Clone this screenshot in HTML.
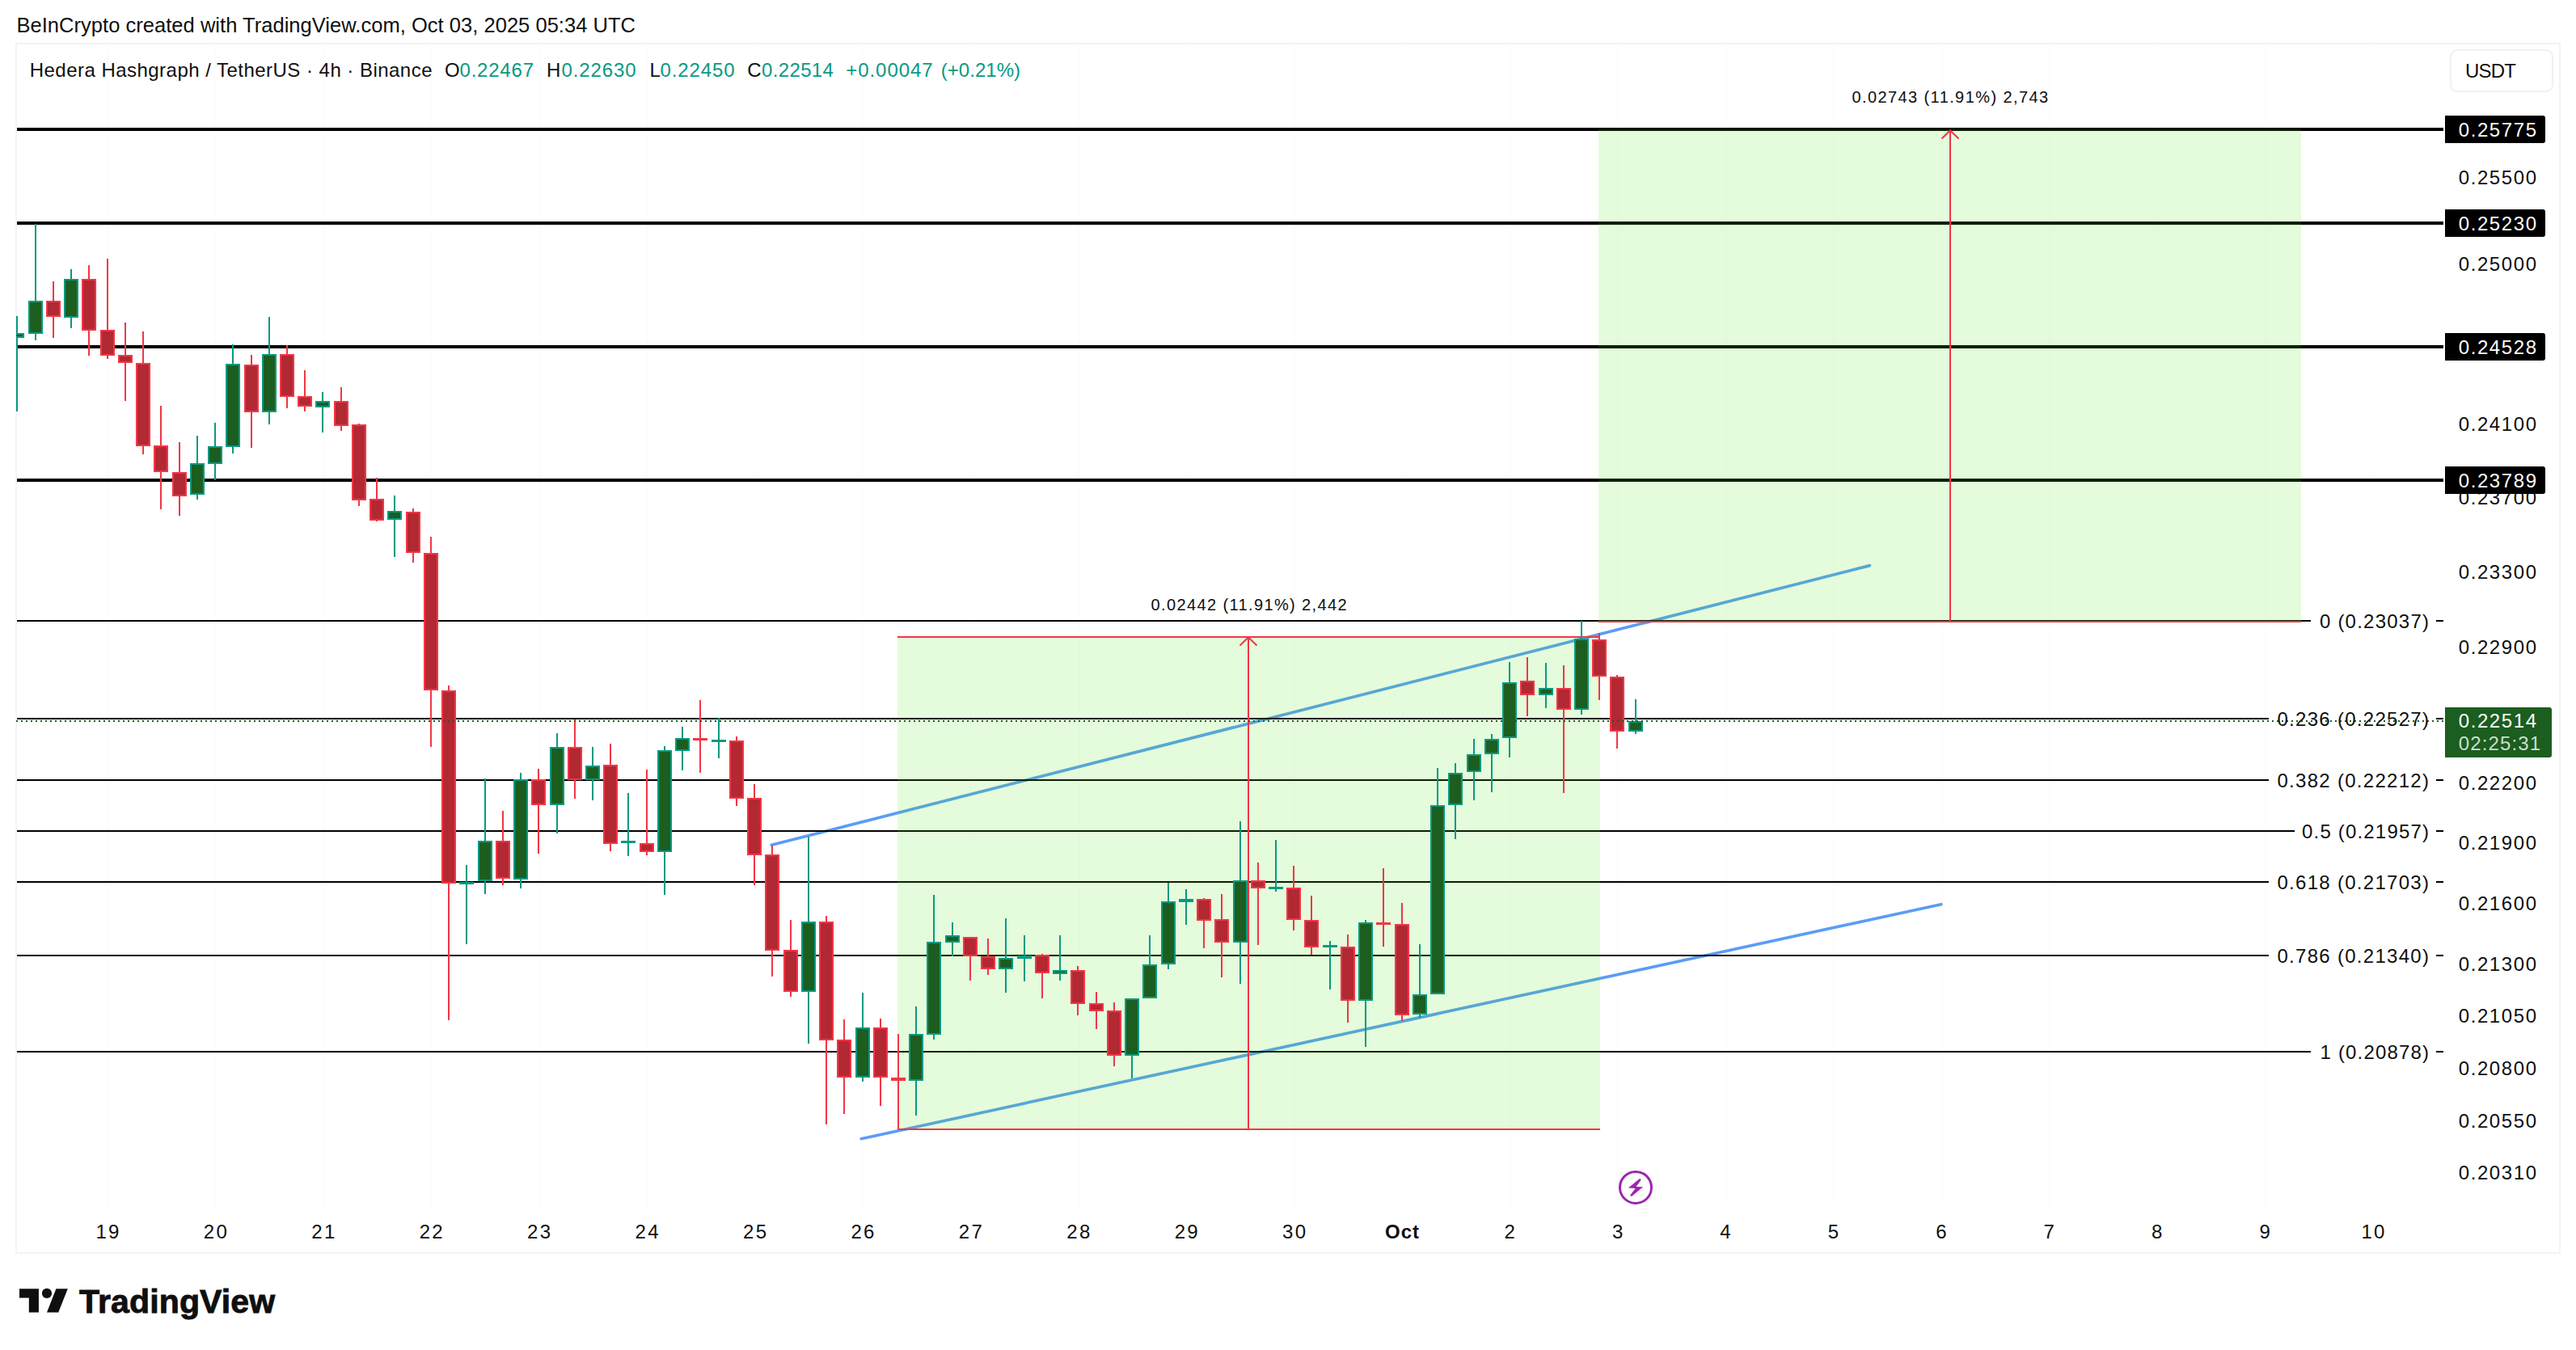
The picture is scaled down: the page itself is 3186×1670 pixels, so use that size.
<!DOCTYPE html><html><head><meta charset="utf-8"><title>HBARUSDT chart</title><style>html,body{margin:0;padding:0;background:#fff}body{width:3186px;height:1670px;position:relative;overflow:hidden}</style></head><body>
<svg width="3186" height="1670" viewBox="0 0 3186 1670" style="position:absolute;left:0;top:0">
<defs><clipPath id="cp"><rect x="20" y="54" width="3002" height="1440"/></clipPath></defs>
<rect x="0" y="0" width="3186" height="1670" fill="#fff"/>
<rect x="20" y="54" width="3146" height="1496" fill="none" stroke="#f3f3f3" stroke-width="2"/>
<g shape-rendering="crispEdges"><rect x="133" y="55" width="1" height="1439" fill="#fbfbfb"/><rect x="266" y="55" width="1" height="1439" fill="#fbfbfb"/><rect x="400" y="55" width="1" height="1439" fill="#fbfbfb"/><rect x="533" y="55" width="1" height="1439" fill="#fbfbfb"/><rect x="667" y="55" width="1" height="1439" fill="#fbfbfb"/><rect x="800" y="55" width="1" height="1439" fill="#fbfbfb"/><rect x="933" y="55" width="1" height="1439" fill="#fbfbfb"/><rect x="1067" y="55" width="1" height="1439" fill="#fbfbfb"/><rect x="1200" y="55" width="1" height="1439" fill="#fbfbfb"/><rect x="1334" y="55" width="1" height="1439" fill="#fbfbfb"/><rect x="1467" y="55" width="1" height="1439" fill="#fbfbfb"/><rect x="1601" y="55" width="1" height="1439" fill="#fbfbfb"/><rect x="1734" y="55" width="1" height="1439" fill="#fbfbfb"/><rect x="1867" y="55" width="1" height="1439" fill="#fbfbfb"/><rect x="2001" y="55" width="1" height="1439" fill="#fbfbfb"/><rect x="2134" y="55" width="1" height="1439" fill="#fbfbfb"/><rect x="2268" y="55" width="1" height="1439" fill="#fbfbfb"/><rect x="2401" y="55" width="1" height="1439" fill="#fbfbfb"/><rect x="2535" y="55" width="1" height="1439" fill="#fbfbfb"/><rect x="2668" y="55" width="1" height="1439" fill="#fbfbfb"/><rect x="2802" y="55" width="1" height="1439" fill="#fbfbfb"/><rect x="2935" y="55" width="1" height="1439" fill="#fbfbfb"/></g>
<rect x="3031" y="62" width="126" height="51" rx="8" fill="#fff" stroke="#f1f1f1" stroke-width="2"/>
<g shape-rendering="crispEdges" clip-path="url(#cp)">
<rect x="21" y="158" width="3001" height="4" fill="#000"/>
<rect x="21" y="274" width="3001" height="4" fill="#000"/>
<rect x="21" y="427" width="3001" height="4" fill="#000"/>
<rect x="21" y="592" width="3001" height="4" fill="#000"/>
</g>
<g clip-path="url(#cp)"><line x1="954.3" y1="1045.3" x2="2312.4" y2="699.6" stroke="#5b9cf6" stroke-width="3.7" stroke-linecap="round"/><line x1="1065.2" y1="1408.7" x2="2400.8" y2="1118.7" stroke="#5b9cf6" stroke-width="3.7" stroke-linecap="round"/></g>
<g shape-rendering="crispEdges">
<rect x="21" y="767" width="2837" height="2" fill="#000"/>
<rect x="3013" y="767" width="9" height="2" fill="#000"/>
<rect x="21" y="888" width="2785" height="2" fill="#000"/>
<rect x="3013" y="888" width="9" height="2" fill="#000"/>
<rect x="21" y="964" width="2785" height="2" fill="#000"/>
<rect x="3013" y="964" width="9" height="2" fill="#000"/>
<rect x="21" y="1027" width="2817" height="2" fill="#000"/>
<rect x="3013" y="1027" width="9" height="2" fill="#000"/>
<rect x="21" y="1090" width="2785" height="2" fill="#000"/>
<rect x="3013" y="1090" width="9" height="2" fill="#000"/>
<rect x="21" y="1181" width="2785" height="2" fill="#000"/>
<rect x="3013" y="1181" width="9" height="2" fill="#000"/>
<rect x="21" y="1300" width="2837" height="2" fill="#000"/>
<rect x="3013" y="1300" width="9" height="2" fill="#000"/>
<rect x="1110" y="789" width="869" height="608" fill="rgba(62,234,5,0.14)"/>
<rect x="1977" y="160" width="869" height="608" fill="rgba(62,234,5,0.14)"/>
<rect x="1110" y="787" width="868" height="2" fill="#f23645"/>
<rect x="1110" y="1396" width="869" height="2" fill="#f23645"/>
<rect x="1543" y="789" width="2" height="608" fill="#f23645"/>
<rect x="1977" y="768" width="869" height="2" fill="#f23645"/>
<rect x="2411" y="162" width="2" height="607" fill="#f23645"/>
</g>
<path d="M1533.5 798.5 L1544 788.5 L1554.5 798.5" fill="none" stroke="#f23645" stroke-width="2"/>
<path d="M2401.5 171.5 L2412 161.5 L2422.5 171.5" fill="none" stroke="#f23645" stroke-width="2"/>
<g shape-rendering="crispEdges" clip-path="url(#cp)"><rect x="20" y="391" width="2" height="118" fill="#089981"/><rect x="12" y="412" width="18" height="6" fill="#089981"/><rect x="14" y="414" width="14" height="2" fill="#1b5e20"/><rect x="43" y="277" width="2" height="144" fill="#089981"/><rect x="35" y="372" width="18" height="41" fill="#089981"/><rect x="37" y="374" width="14" height="37" fill="#1b5e20"/><rect x="65" y="348" width="2" height="70" fill="#f23645"/><rect x="57" y="372" width="18" height="20" fill="#f23645"/><rect x="59" y="374" width="14" height="16" fill="#b22833"/><rect x="87" y="333" width="2" height="73" fill="#089981"/><rect x="79" y="345" width="18" height="48" fill="#089981"/><rect x="81" y="347" width="14" height="44" fill="#1b5e20"/><rect x="109" y="328" width="2" height="112" fill="#f23645"/><rect x="101" y="345" width="18" height="64" fill="#f23645"/><rect x="103" y="347" width="14" height="60" fill="#b22833"/><rect x="132" y="320" width="2" height="124" fill="#f23645"/><rect x="124" y="408" width="18" height="32" fill="#f23645"/><rect x="126" y="410" width="14" height="28" fill="#b22833"/><rect x="154" y="399" width="2" height="97" fill="#f23645"/><rect x="146" y="439" width="18" height="10" fill="#f23645"/><rect x="148" y="441" width="14" height="6" fill="#b22833"/><rect x="176" y="410" width="2" height="152" fill="#f23645"/><rect x="168" y="449" width="18" height="103" fill="#f23645"/><rect x="170" y="451" width="14" height="99" fill="#b22833"/><rect x="198" y="502" width="2" height="128" fill="#f23645"/><rect x="190" y="551" width="18" height="33" fill="#f23645"/><rect x="192" y="553" width="14" height="29" fill="#b22833"/><rect x="221" y="547" width="2" height="91" fill="#f23645"/><rect x="213" y="584" width="18" height="30" fill="#f23645"/><rect x="215" y="586" width="14" height="26" fill="#b22833"/><rect x="243" y="539" width="2" height="79" fill="#089981"/><rect x="235" y="573" width="18" height="39" fill="#089981"/><rect x="237" y="575" width="14" height="35" fill="#1b5e20"/><rect x="265" y="523" width="2" height="71" fill="#089981"/><rect x="257" y="552" width="18" height="22" fill="#089981"/><rect x="259" y="554" width="14" height="18" fill="#1b5e20"/><rect x="287" y="426" width="2" height="135" fill="#089981"/><rect x="279" y="450" width="18" height="103" fill="#089981"/><rect x="281" y="452" width="14" height="99" fill="#1b5e20"/><rect x="310" y="439" width="2" height="115" fill="#f23645"/><rect x="302" y="451" width="18" height="59" fill="#f23645"/><rect x="304" y="453" width="14" height="55" fill="#b22833"/><rect x="332" y="392" width="2" height="133" fill="#089981"/><rect x="324" y="438" width="18" height="72" fill="#089981"/><rect x="326" y="440" width="14" height="68" fill="#1b5e20"/><rect x="354" y="427" width="2" height="78" fill="#f23645"/><rect x="346" y="438" width="18" height="53" fill="#f23645"/><rect x="348" y="440" width="14" height="49" fill="#b22833"/><rect x="376" y="458" width="2" height="51" fill="#f23645"/><rect x="368" y="490" width="18" height="13" fill="#f23645"/><rect x="370" y="492" width="14" height="9" fill="#b22833"/><rect x="398" y="485" width="2" height="50" fill="#089981"/><rect x="390" y="496" width="18" height="8" fill="#089981"/><rect x="392" y="498" width="14" height="4" fill="#1b5e20"/><rect x="421" y="479" width="2" height="54" fill="#f23645"/><rect x="413" y="496" width="18" height="31" fill="#f23645"/><rect x="415" y="498" width="14" height="27" fill="#b22833"/><rect x="443" y="524" width="2" height="102" fill="#f23645"/><rect x="435" y="525" width="18" height="94" fill="#f23645"/><rect x="437" y="527" width="14" height="90" fill="#b22833"/><rect x="465" y="591" width="2" height="54" fill="#f23645"/><rect x="457" y="617" width="18" height="27" fill="#f23645"/><rect x="459" y="619" width="14" height="23" fill="#b22833"/><rect x="487" y="613" width="2" height="76" fill="#089981"/><rect x="479" y="632" width="18" height="11" fill="#089981"/><rect x="481" y="634" width="14" height="7" fill="#1b5e20"/><rect x="510" y="629" width="2" height="67" fill="#f23645"/><rect x="502" y="633" width="18" height="51" fill="#f23645"/><rect x="504" y="635" width="14" height="47" fill="#b22833"/><rect x="532" y="664" width="2" height="260" fill="#f23645"/><rect x="524" y="684" width="18" height="170" fill="#f23645"/><rect x="526" y="686" width="14" height="166" fill="#b22833"/><rect x="554" y="848" width="2" height="414" fill="#f23645"/><rect x="546" y="854" width="18" height="239" fill="#f23645"/><rect x="548" y="856" width="14" height="235" fill="#b22833"/><rect x="576" y="1070" width="2" height="98" fill="#089981"/><rect x="568" y="1091" width="18" height="3" fill="#089981"/><rect x="599" y="963" width="2" height="143" fill="#089981"/><rect x="591" y="1040" width="18" height="50" fill="#089981"/><rect x="593" y="1042" width="14" height="46" fill="#1b5e20"/><rect x="621" y="1003" width="2" height="92" fill="#f23645"/><rect x="613" y="1040" width="18" height="47" fill="#f23645"/><rect x="615" y="1042" width="14" height="43" fill="#b22833"/><rect x="643" y="956" width="2" height="143" fill="#089981"/><rect x="635" y="964" width="18" height="124" fill="#089981"/><rect x="637" y="966" width="14" height="120" fill="#1b5e20"/><rect x="665" y="951" width="2" height="105" fill="#f23645"/><rect x="657" y="964" width="18" height="32" fill="#f23645"/><rect x="659" y="966" width="14" height="28" fill="#b22833"/><rect x="688" y="907" width="2" height="124" fill="#089981"/><rect x="680" y="924" width="18" height="72" fill="#089981"/><rect x="682" y="926" width="14" height="68" fill="#1b5e20"/><rect x="710" y="890" width="2" height="98" fill="#f23645"/><rect x="702" y="924" width="18" height="41" fill="#f23645"/><rect x="704" y="926" width="14" height="37" fill="#b22833"/><rect x="732" y="924" width="2" height="66" fill="#089981"/><rect x="724" y="947" width="18" height="18" fill="#089981"/><rect x="726" y="949" width="14" height="14" fill="#1b5e20"/><rect x="754" y="920" width="2" height="133" fill="#f23645"/><rect x="746" y="946" width="18" height="98" fill="#f23645"/><rect x="748" y="948" width="14" height="94" fill="#b22833"/><rect x="776" y="981" width="2" height="78" fill="#089981"/><rect x="768" y="1040" width="18" height="3" fill="#089981"/><rect x="799" y="952" width="2" height="106" fill="#f23645"/><rect x="791" y="1043" width="18" height="11" fill="#f23645"/><rect x="793" y="1045" width="14" height="7" fill="#b22833"/><rect x="821" y="923" width="2" height="184" fill="#089981"/><rect x="813" y="928" width="18" height="126" fill="#089981"/><rect x="815" y="930" width="14" height="122" fill="#1b5e20"/><rect x="843" y="899" width="2" height="54" fill="#089981"/><rect x="835" y="913" width="18" height="16" fill="#089981"/><rect x="837" y="915" width="14" height="12" fill="#1b5e20"/><rect x="865" y="866" width="2" height="90" fill="#f23645"/><rect x="857" y="913" width="18" height="3" fill="#f23645"/><rect x="888" y="888" width="2" height="50" fill="#089981"/><rect x="880" y="915" width="18" height="3" fill="#089981"/><rect x="910" y="911" width="2" height="86" fill="#f23645"/><rect x="902" y="916" width="18" height="72" fill="#f23645"/><rect x="904" y="918" width="14" height="68" fill="#b22833"/><rect x="932" y="970" width="2" height="125" fill="#f23645"/><rect x="924" y="987" width="18" height="71" fill="#f23645"/><rect x="926" y="989" width="14" height="67" fill="#b22833"/><rect x="954" y="1046" width="2" height="162" fill="#f23645"/><rect x="946" y="1057" width="18" height="119" fill="#f23645"/><rect x="948" y="1059" width="14" height="115" fill="#b22833"/><rect x="977" y="1138" width="2" height="95" fill="#f23645"/><rect x="969" y="1175" width="18" height="52" fill="#f23645"/><rect x="971" y="1177" width="14" height="48" fill="#b22833"/><rect x="999" y="1035" width="2" height="256" fill="#089981"/><rect x="991" y="1140" width="18" height="87" fill="#089981"/><rect x="993" y="1142" width="14" height="83" fill="#1b5e20"/><rect x="1021" y="1133" width="2" height="258" fill="#f23645"/><rect x="1013" y="1140" width="18" height="147" fill="#f23645"/><rect x="1015" y="1142" width="14" height="143" fill="#b22833"/><rect x="1043" y="1261" width="2" height="117" fill="#f23645"/><rect x="1035" y="1286" width="18" height="47" fill="#f23645"/><rect x="1037" y="1288" width="14" height="43" fill="#b22833"/><rect x="1066" y="1228" width="2" height="110" fill="#089981"/><rect x="1058" y="1271" width="18" height="62" fill="#089981"/><rect x="1060" y="1273" width="14" height="58" fill="#1b5e20"/><rect x="1088" y="1260" width="2" height="108" fill="#f23645"/><rect x="1080" y="1271" width="18" height="62" fill="#f23645"/><rect x="1082" y="1273" width="14" height="58" fill="#b22833"/><rect x="1110" y="1279" width="2" height="119" fill="#f23645"/><rect x="1102" y="1333" width="18" height="4" fill="#f23645"/><rect x="1132" y="1245" width="2" height="135" fill="#089981"/><rect x="1124" y="1279" width="18" height="58" fill="#089981"/><rect x="1126" y="1281" width="14" height="54" fill="#1b5e20"/><rect x="1154" y="1107" width="2" height="179" fill="#089981"/><rect x="1146" y="1165" width="18" height="115" fill="#089981"/><rect x="1148" y="1167" width="14" height="111" fill="#1b5e20"/><rect x="1177" y="1141" width="2" height="42" fill="#089981"/><rect x="1169" y="1157" width="18" height="9" fill="#089981"/><rect x="1171" y="1159" width="14" height="5" fill="#1b5e20"/><rect x="1199" y="1159" width="2" height="54" fill="#f23645"/><rect x="1191" y="1159" width="18" height="24" fill="#f23645"/><rect x="1193" y="1161" width="14" height="20" fill="#b22833"/><rect x="1221" y="1161" width="2" height="45" fill="#f23645"/><rect x="1213" y="1183" width="18" height="16" fill="#f23645"/><rect x="1215" y="1185" width="14" height="12" fill="#b22833"/><rect x="1243" y="1136" width="2" height="92" fill="#089981"/><rect x="1235" y="1185" width="18" height="14" fill="#089981"/><rect x="1237" y="1187" width="14" height="10" fill="#1b5e20"/><rect x="1266" y="1157" width="2" height="57" fill="#089981"/><rect x="1258" y="1182" width="18" height="4" fill="#089981"/><rect x="1288" y="1180" width="2" height="55" fill="#f23645"/><rect x="1280" y="1181" width="18" height="23" fill="#f23645"/><rect x="1282" y="1183" width="14" height="19" fill="#b22833"/><rect x="1310" y="1157" width="2" height="56" fill="#089981"/><rect x="1302" y="1200" width="18" height="5" fill="#089981"/><rect x="1304" y="1202" width="14" height="1" fill="#1b5e20"/><rect x="1332" y="1195" width="2" height="61" fill="#f23645"/><rect x="1324" y="1200" width="18" height="42" fill="#f23645"/><rect x="1326" y="1202" width="14" height="38" fill="#b22833"/><rect x="1355" y="1227" width="2" height="46" fill="#f23645"/><rect x="1347" y="1241" width="18" height="10" fill="#f23645"/><rect x="1349" y="1243" width="14" height="6" fill="#b22833"/><rect x="1377" y="1240" width="2" height="79" fill="#f23645"/><rect x="1369" y="1250" width="18" height="56" fill="#f23645"/><rect x="1371" y="1252" width="14" height="52" fill="#b22833"/><rect x="1399" y="1235" width="2" height="99" fill="#089981"/><rect x="1391" y="1235" width="18" height="71" fill="#089981"/><rect x="1393" y="1237" width="14" height="67" fill="#1b5e20"/><rect x="1421" y="1157" width="2" height="78" fill="#089981"/><rect x="1413" y="1193" width="18" height="42" fill="#089981"/><rect x="1415" y="1195" width="14" height="38" fill="#1b5e20"/><rect x="1444" y="1092" width="2" height="107" fill="#089981"/><rect x="1436" y="1115" width="18" height="78" fill="#089981"/><rect x="1438" y="1117" width="14" height="74" fill="#1b5e20"/><rect x="1466" y="1100" width="2" height="44" fill="#089981"/><rect x="1458" y="1112" width="18" height="4" fill="#089981"/><rect x="1488" y="1111" width="2" height="62" fill="#f23645"/><rect x="1480" y="1112" width="18" height="27" fill="#f23645"/><rect x="1482" y="1114" width="14" height="23" fill="#b22833"/><rect x="1510" y="1106" width="2" height="103" fill="#f23645"/><rect x="1502" y="1137" width="18" height="29" fill="#f23645"/><rect x="1504" y="1139" width="14" height="25" fill="#b22833"/><rect x="1533" y="1016" width="2" height="201" fill="#089981"/><rect x="1525" y="1089" width="18" height="77" fill="#089981"/><rect x="1527" y="1091" width="14" height="73" fill="#1b5e20"/><rect x="1555" y="1067" width="2" height="102" fill="#f23645"/><rect x="1547" y="1089" width="18" height="10" fill="#f23645"/><rect x="1549" y="1091" width="14" height="6" fill="#b22833"/><rect x="1577" y="1039" width="2" height="64" fill="#089981"/><rect x="1569" y="1097" width="18" height="3" fill="#089981"/><rect x="1599" y="1071" width="2" height="80" fill="#f23645"/><rect x="1591" y="1098" width="18" height="40" fill="#f23645"/><rect x="1593" y="1100" width="14" height="36" fill="#b22833"/><rect x="1621" y="1108" width="2" height="73" fill="#f23645"/><rect x="1613" y="1138" width="18" height="34" fill="#f23645"/><rect x="1615" y="1140" width="14" height="30" fill="#b22833"/><rect x="1644" y="1164" width="2" height="60" fill="#089981"/><rect x="1636" y="1169" width="18" height="3" fill="#089981"/><rect x="1666" y="1156" width="2" height="109" fill="#f23645"/><rect x="1658" y="1171" width="18" height="67" fill="#f23645"/><rect x="1660" y="1173" width="14" height="63" fill="#b22833"/><rect x="1688" y="1138" width="2" height="157" fill="#089981"/><rect x="1680" y="1141" width="18" height="97" fill="#089981"/><rect x="1682" y="1143" width="14" height="93" fill="#1b5e20"/><rect x="1710" y="1074" width="2" height="97" fill="#f23645"/><rect x="1702" y="1141" width="18" height="3" fill="#f23645"/><rect x="1733" y="1117" width="2" height="146" fill="#f23645"/><rect x="1725" y="1143" width="18" height="113" fill="#f23645"/><rect x="1727" y="1145" width="14" height="109" fill="#b22833"/><rect x="1755" y="1168" width="2" height="91" fill="#089981"/><rect x="1747" y="1230" width="18" height="25" fill="#089981"/><rect x="1749" y="1232" width="14" height="21" fill="#1b5e20"/><rect x="1777" y="950" width="2" height="280" fill="#089981"/><rect x="1769" y="996" width="18" height="234" fill="#089981"/><rect x="1771" y="998" width="14" height="230" fill="#1b5e20"/><rect x="1799" y="944" width="2" height="94" fill="#089981"/><rect x="1791" y="956" width="18" height="40" fill="#089981"/><rect x="1793" y="958" width="14" height="36" fill="#1b5e20"/><rect x="1822" y="914" width="2" height="76" fill="#089981"/><rect x="1814" y="933" width="18" height="22" fill="#089981"/><rect x="1816" y="935" width="14" height="18" fill="#1b5e20"/><rect x="1844" y="908" width="2" height="72" fill="#089981"/><rect x="1836" y="914" width="18" height="19" fill="#089981"/><rect x="1838" y="916" width="14" height="15" fill="#1b5e20"/><rect x="1866" y="819" width="2" height="118" fill="#089981"/><rect x="1858" y="844" width="18" height="69" fill="#089981"/><rect x="1860" y="846" width="14" height="65" fill="#1b5e20"/><rect x="1888" y="813" width="2" height="73" fill="#f23645"/><rect x="1880" y="842" width="18" height="18" fill="#f23645"/><rect x="1882" y="844" width="14" height="14" fill="#b22833"/><rect x="1911" y="820" width="2" height="56" fill="#089981"/><rect x="1903" y="851" width="18" height="9" fill="#089981"/><rect x="1905" y="853" width="14" height="5" fill="#1b5e20"/><rect x="1933" y="823" width="2" height="158" fill="#f23645"/><rect x="1925" y="851" width="18" height="27" fill="#f23645"/><rect x="1927" y="853" width="14" height="23" fill="#b22833"/><rect x="1955" y="768" width="2" height="116" fill="#089981"/><rect x="1947" y="790" width="18" height="88" fill="#089981"/><rect x="1949" y="792" width="14" height="84" fill="#1b5e20"/><rect x="1977" y="783" width="2" height="83" fill="#f23645"/><rect x="1969" y="791" width="18" height="46" fill="#f23645"/><rect x="1971" y="793" width="14" height="42" fill="#b22833"/><rect x="1999" y="835" width="2" height="91" fill="#f23645"/><rect x="1991" y="837" width="18" height="68" fill="#f23645"/><rect x="1993" y="839" width="14" height="64" fill="#b22833"/><rect x="2022" y="865" width="2" height="43" fill="#089981"/><rect x="2014" y="892" width="18" height="13" fill="#089981"/><rect x="2016" y="894" width="14" height="9" fill="#1b5e20"/><line x1="20" y1="892" x2="3022" y2="892" stroke="#1b5e20" stroke-width="2" stroke-dasharray="2 4"/></g>
<text x="20.5" y="40.4" font-size="25.5" fill="#0f0f0f" font-weight="normal" textLength="765.5" lengthAdjust="spacing" font-family="Liberation Sans, Arial, sans-serif" >BeInCrypto created with TradingView.com, Oct 03, 2025 05:34 UTC</text>
<text x="36.7" y="94.5" font-size="24" fill="#0f0f0f" font-weight="normal" textLength="497.8" lengthAdjust="spacing" font-family="Liberation Sans, Arial, sans-serif" >Hedera Hashgraph / TetherUS · 4h · Binance</text>
<text x="550.0" y="94.5" font-size="24" fill="#0f0f0f" font-weight="normal" textLength="17.5" lengthAdjust="spacing" font-family="Liberation Sans, Arial, sans-serif" >O</text>
<text x="568.5" y="94.5" font-size="24" fill="#089981" font-weight="normal" textLength="91.5" lengthAdjust="spacing" font-family="Liberation Sans, Arial, sans-serif" >0.22467</text>
<text x="676.0" y="94.5" font-size="24" fill="#0f0f0f" font-weight="normal" textLength="15.0" lengthAdjust="spacing" font-family="Liberation Sans, Arial, sans-serif" >H</text>
<text x="694.5" y="94.5" font-size="24" fill="#089981" font-weight="normal" textLength="92.1" lengthAdjust="spacing" font-family="Liberation Sans, Arial, sans-serif" >0.22630</text>
<text x="803.5" y="94.5" font-size="24" fill="#0f0f0f" font-weight="normal" textLength="11.0" lengthAdjust="spacing" font-family="Liberation Sans, Arial, sans-serif" >L</text>
<text x="816.5" y="94.5" font-size="24" fill="#089981" font-weight="normal" textLength="92.1" lengthAdjust="spacing" font-family="Liberation Sans, Arial, sans-serif" >0.22450</text>
<text x="924.3" y="94.5" font-size="24" fill="#0f0f0f" font-weight="normal" textLength="16.2" lengthAdjust="spacing" font-family="Liberation Sans, Arial, sans-serif" >C</text>
<text x="942.0" y="94.5" font-size="24" fill="#089981" font-weight="normal" textLength="88.9" lengthAdjust="spacing" font-family="Liberation Sans, Arial, sans-serif" >0.22514</text>
<text x="1046.3" y="94.5" font-size="24" fill="#089981" font-weight="normal" textLength="107.3" lengthAdjust="spacing" font-family="Liberation Sans, Arial, sans-serif" >+0.00047</text>
<text x="1163.8" y="94.5" font-size="24" fill="#089981" font-weight="normal" textLength="98.2" lengthAdjust="spacing" font-family="Liberation Sans, Arial, sans-serif" >(+0.21%)</text>
<text x="3049.0" y="95.7" font-size="24" fill="#0f0f0f" font-weight="normal" textLength="63.0" lengthAdjust="spacing" font-family="Liberation Sans, Arial, sans-serif" >USDT</text>
<text x="3040.7" y="227.6" font-size="24" fill="#0f0f0f" font-weight="normal" textLength="96.3" lengthAdjust="spacing" font-family="Liberation Sans, Arial, sans-serif" >0.25500</text>
<text x="3040.7" y="334.8" font-size="24" fill="#0f0f0f" font-weight="normal" textLength="96.3" lengthAdjust="spacing" font-family="Liberation Sans, Arial, sans-serif" >0.25000</text>
<text x="3040.7" y="533.1" font-size="24" fill="#0f0f0f" font-weight="normal" textLength="96.3" lengthAdjust="spacing" font-family="Liberation Sans, Arial, sans-serif" >0.24100</text>
<text x="3040.7" y="623.7" font-size="24" fill="#0f0f0f" font-weight="normal" textLength="96.3" lengthAdjust="spacing" font-family="Liberation Sans, Arial, sans-serif" >0.23700</text>
<text x="3040.7" y="715.7" font-size="24" fill="#0f0f0f" font-weight="normal" textLength="96.3" lengthAdjust="spacing" font-family="Liberation Sans, Arial, sans-serif" >0.23300</text>
<text x="3040.7" y="809.4" font-size="24" fill="#0f0f0f" font-weight="normal" textLength="96.3" lengthAdjust="spacing" font-family="Liberation Sans, Arial, sans-serif" >0.22900</text>
<text x="3040.7" y="977.4" font-size="24" fill="#0f0f0f" font-weight="normal" textLength="96.3" lengthAdjust="spacing" font-family="Liberation Sans, Arial, sans-serif" >0.22200</text>
<text x="3040.7" y="1051.0" font-size="24" fill="#0f0f0f" font-weight="normal" textLength="96.3" lengthAdjust="spacing" font-family="Liberation Sans, Arial, sans-serif" >0.21900</text>
<text x="3040.7" y="1125.6" font-size="24" fill="#0f0f0f" font-weight="normal" textLength="96.3" lengthAdjust="spacing" font-family="Liberation Sans, Arial, sans-serif" >0.21600</text>
<text x="3040.7" y="1201.3" font-size="24" fill="#0f0f0f" font-weight="normal" textLength="96.3" lengthAdjust="spacing" font-family="Liberation Sans, Arial, sans-serif" >0.21300</text>
<text x="3040.7" y="1265.1" font-size="24" fill="#0f0f0f" font-weight="normal" textLength="96.3" lengthAdjust="spacing" font-family="Liberation Sans, Arial, sans-serif" >0.21050</text>
<text x="3040.7" y="1329.8" font-size="24" fill="#0f0f0f" font-weight="normal" textLength="96.3" lengthAdjust="spacing" font-family="Liberation Sans, Arial, sans-serif" >0.20800</text>
<text x="3040.7" y="1395.2" font-size="24" fill="#0f0f0f" font-weight="normal" textLength="96.3" lengthAdjust="spacing" font-family="Liberation Sans, Arial, sans-serif" >0.20550</text>
<text x="3040.7" y="1458.8" font-size="24" fill="#0f0f0f" font-weight="normal" textLength="96.3" lengthAdjust="spacing" font-family="Liberation Sans, Arial, sans-serif" >0.20310</text>
<path d="M3024 143 H3145 a3 3 0 0 1 3 3 V174 a3 3 0 0 1 -3 3 H3024 Z" fill="#000"/>
<path d="M3024 259 H3145 a3 3 0 0 1 3 3 V290 a3 3 0 0 1 -3 3 H3024 Z" fill="#000"/>
<path d="M3024 412 H3145 a3 3 0 0 1 3 3 V443 a3 3 0 0 1 -3 3 H3024 Z" fill="#000"/>
<path d="M3024 577 H3145 a3 3 0 0 1 3 3 V608 a3 3 0 0 1 -3 3 H3024 Z" fill="#000"/>
<path d="M3024 875 H3153 a3 3 0 0 1 3 3 V934 a3 3 0 0 1 -3 3 H3024 Z" fill="#1b5e20"/>
<text x="2868.9" y="776.9" font-size="24" fill="#0f0f0f" font-weight="normal" textLength="135.1" lengthAdjust="spacing" font-family="Liberation Sans, Arial, sans-serif" >0 (0.23037)</text>
<text x="2816.4" y="897.9" font-size="24" fill="#0f0f0f" font-weight="normal" textLength="187.6" lengthAdjust="spacing" font-family="Liberation Sans, Arial, sans-serif" >0.236 (0.22527)</text>
<text x="2816.4" y="973.9" font-size="24" fill="#0f0f0f" font-weight="normal" textLength="187.6" lengthAdjust="spacing" font-family="Liberation Sans, Arial, sans-serif" >0.382 (0.22212)</text>
<text x="2847.0" y="1036.9" font-size="24" fill="#0f0f0f" font-weight="normal" textLength="157.0" lengthAdjust="spacing" font-family="Liberation Sans, Arial, sans-serif" >0.5 (0.21957)</text>
<text x="2816.4" y="1099.9" font-size="24" fill="#0f0f0f" font-weight="normal" textLength="187.6" lengthAdjust="spacing" font-family="Liberation Sans, Arial, sans-serif" >0.618 (0.21703)</text>
<text x="2816.4" y="1190.9" font-size="24" fill="#0f0f0f" font-weight="normal" textLength="187.6" lengthAdjust="spacing" font-family="Liberation Sans, Arial, sans-serif" >0.786 (0.21340)</text>
<text x="2869.6" y="1309.9" font-size="24" fill="#0f0f0f" font-weight="normal" textLength="134.4" lengthAdjust="spacing" font-family="Liberation Sans, Arial, sans-serif" >1 (0.20878)</text>
<text x="2290.4" y="126.8" font-size="20" fill="#0f0f0f" font-weight="normal" textLength="242.7" lengthAdjust="spacing" font-family="Liberation Sans, Arial, sans-serif" >0.02743 (11.91%) 2,743</text>
<text x="1423.6" y="755.1" font-size="20" fill="#0f0f0f" font-weight="normal" textLength="242.0" lengthAdjust="spacing" font-family="Liberation Sans, Arial, sans-serif" >0.02442 (11.91%) 2,442</text>
<text x="118.4" y="1532.2" font-size="24" fill="#0f0f0f" font-weight="normal" textLength="29.0" lengthAdjust="spacing" font-family="Liberation Sans, Arial, sans-serif" >19</text>
<text x="251.8" y="1532.2" font-size="24" fill="#0f0f0f" font-weight="normal" textLength="29.0" lengthAdjust="spacing" font-family="Liberation Sans, Arial, sans-serif" >20</text>
<text x="385.3" y="1532.2" font-size="24" fill="#0f0f0f" font-weight="normal" textLength="29.0" lengthAdjust="spacing" font-family="Liberation Sans, Arial, sans-serif" >21</text>
<text x="518.7" y="1532.2" font-size="24" fill="#0f0f0f" font-weight="normal" textLength="29.0" lengthAdjust="spacing" font-family="Liberation Sans, Arial, sans-serif" >22</text>
<text x="652.1" y="1532.2" font-size="24" fill="#0f0f0f" font-weight="normal" textLength="29.0" lengthAdjust="spacing" font-family="Liberation Sans, Arial, sans-serif" >23</text>
<text x="785.6" y="1532.2" font-size="24" fill="#0f0f0f" font-weight="normal" textLength="29.0" lengthAdjust="spacing" font-family="Liberation Sans, Arial, sans-serif" >24</text>
<text x="919.0" y="1532.2" font-size="24" fill="#0f0f0f" font-weight="normal" textLength="29.0" lengthAdjust="spacing" font-family="Liberation Sans, Arial, sans-serif" >25</text>
<text x="1052.4" y="1532.2" font-size="24" fill="#0f0f0f" font-weight="normal" textLength="29.0" lengthAdjust="spacing" font-family="Liberation Sans, Arial, sans-serif" >26</text>
<text x="1185.8" y="1532.2" font-size="24" fill="#0f0f0f" font-weight="normal" textLength="29.0" lengthAdjust="spacing" font-family="Liberation Sans, Arial, sans-serif" >27</text>
<text x="1319.3" y="1532.2" font-size="24" fill="#0f0f0f" font-weight="normal" textLength="29.0" lengthAdjust="spacing" font-family="Liberation Sans, Arial, sans-serif" >28</text>
<text x="1452.7" y="1532.2" font-size="24" fill="#0f0f0f" font-weight="normal" textLength="29.0" lengthAdjust="spacing" font-family="Liberation Sans, Arial, sans-serif" >29</text>
<text x="1586.1" y="1532.2" font-size="24" fill="#0f0f0f" font-weight="normal" textLength="29.0" lengthAdjust="spacing" font-family="Liberation Sans, Arial, sans-serif" >30</text>
<text x="1713.1" y="1532.2" font-size="24" fill="#0f0f0f" font-weight="bold" textLength="42.0" lengthAdjust="spacing" font-family="Liberation Sans, Arial, sans-serif" >Oct</text>
<text x="1860.5" y="1532.2" font-size="24" fill="#0f0f0f" font-weight="normal" textLength="14.0" lengthAdjust="spacing" font-family="Liberation Sans, Arial, sans-serif" >2</text>
<text x="1993.9" y="1532.2" font-size="24" fill="#0f0f0f" font-weight="normal" textLength="14.0" lengthAdjust="spacing" font-family="Liberation Sans, Arial, sans-serif" >3</text>
<text x="2127.3" y="1532.2" font-size="24" fill="#0f0f0f" font-weight="normal" textLength="14.0" lengthAdjust="spacing" font-family="Liberation Sans, Arial, sans-serif" >4</text>
<text x="2260.8" y="1532.2" font-size="24" fill="#0f0f0f" font-weight="normal" textLength="14.0" lengthAdjust="spacing" font-family="Liberation Sans, Arial, sans-serif" >5</text>
<text x="2394.2" y="1532.2" font-size="24" fill="#0f0f0f" font-weight="normal" textLength="14.0" lengthAdjust="spacing" font-family="Liberation Sans, Arial, sans-serif" >6</text>
<text x="2527.6" y="1532.2" font-size="24" fill="#0f0f0f" font-weight="normal" textLength="14.0" lengthAdjust="spacing" font-family="Liberation Sans, Arial, sans-serif" >7</text>
<text x="2661.1" y="1532.2" font-size="24" fill="#0f0f0f" font-weight="normal" textLength="14.0" lengthAdjust="spacing" font-family="Liberation Sans, Arial, sans-serif" >8</text>
<text x="2794.5" y="1532.2" font-size="24" fill="#0f0f0f" font-weight="normal" textLength="14.0" lengthAdjust="spacing" font-family="Liberation Sans, Arial, sans-serif" >9</text>
<text x="2920.4" y="1532.2" font-size="24" fill="#0f0f0f" font-weight="normal" textLength="29.0" lengthAdjust="spacing" font-family="Liberation Sans, Arial, sans-serif" >10</text>
<text x="98.0" y="1623.6" font-size="41" fill="#0f0f0f" font-weight="bold" textLength="242.2" lengthAdjust="spacing" font-family="Liberation Sans, Arial, sans-serif" stroke="#0f0f0f" stroke-width="0.9">TradingView</text>
<text x="3040.7" y="169.1" font-size="24" fill="#fff" font-weight="normal" textLength="96.3" lengthAdjust="spacing" font-family="Liberation Sans, Arial, sans-serif" >0.25775</text>
<text x="3040.7" y="285.1" font-size="24" fill="#fff" font-weight="normal" textLength="96.3" lengthAdjust="spacing" font-family="Liberation Sans, Arial, sans-serif" >0.25230</text>
<text x="3040.7" y="438.1" font-size="24" fill="#fff" font-weight="normal" textLength="96.3" lengthAdjust="spacing" font-family="Liberation Sans, Arial, sans-serif" >0.24528</text>
<text x="3040.7" y="603.1" font-size="24" fill="#fff" font-weight="normal" textLength="96.3" lengthAdjust="spacing" font-family="Liberation Sans, Arial, sans-serif" >0.23789</text>
<text x="3040.7" y="899.6" font-size="24" fill="#fff" font-weight="normal" textLength="96.3" lengthAdjust="spacing" font-family="Liberation Sans, Arial, sans-serif" >0.22514</text>
<text x="3040.7" y="927.7" font-size="24" fill="rgba(255,255,255,0.8)" font-weight="normal" textLength="101.3" lengthAdjust="spacing" font-family="Liberation Sans, Arial, sans-serif" >02:25:31</text>
<g fill="#0f0f0f"><path d="M24 1594.3 H47.9 V1623.6 H35.8 V1605.6 H24 Z"/><circle cx="57.96" cy="1599.9" r="6.1"/><path d="M69.4 1594.3 H83.8 L72.2 1623.6 H57.96 Z"/></g>
<circle cx="2023" cy="1468.9" r="19.5" fill="none" stroke="#9c27b0" stroke-width="3"/><polygon points="2027.9,1458.0 2029.9,1459.2 2023.6,1468.0 2032.1,1468.2 2018.0,1480.1 2016.1,1478.7 2022.7,1469.9 2013.9,1469.6" fill="#9c27b0"/>
</svg>
</body></html>
